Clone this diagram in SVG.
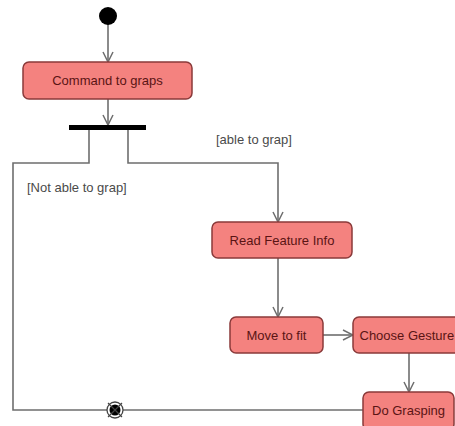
<svg xmlns="http://www.w3.org/2000/svg" width="455" height="426" viewBox="0 0 455 426">
<defs>
<style>
.act rect{fill:#f4827f;stroke:#8a3a3a;stroke-width:1.5}
.act text{font-family:"Liberation Sans",Arial,sans-serif;font-size:13px;fill:#5a1414;text-anchor:middle;dominant-baseline:central}
.edge{fill:none;stroke:#6e6e6e;stroke-width:1.6}
.lbl{font-family:"Liberation Sans",Arial,sans-serif;font-size:13px;fill:#4a4a4a}
</style>
<marker id="arr" viewBox="0 0 12 12" refX="11" refY="6" markerWidth="12" markerHeight="12" markerUnits="userSpaceOnUse" orient="auto">
<path d="M1,1 L11,6 L1,11" fill="none" stroke="#6e6e6e" stroke-width="1.5"/>
</marker>
</defs>
<rect width="455" height="426" fill="#ffffff"/>
<g id="connectors">
<path class="edge" d="M108,24 V62" marker-end="url(#arr)"/>
<path class="edge" d="M108,99 V125" marker-end="url(#arr)"/>
<path class="edge" d="M89,129 V163 H13 V410 H107"/>
<path class="edge" d="M128,129 V163 H278 V222" marker-end="url(#arr)"/>
<path class="edge" d="M278,258 V317" marker-end="url(#arr)"/>
<path class="edge" d="M323,335 H353" marker-end="url(#arr)"/>
<path class="edge" d="M409,353 V392" marker-end="url(#arr)"/>
<path class="edge" d="M363,410 H123"/>
<text class="lbl" x="216" y="144">[able to grap]</text>
<text class="lbl" x="27" y="192">[Not able to grap]</text>
</g>
<g id="initial">
<circle cx="108" cy="16" r="9" fill="#000"/>
</g>
<g id="command" class="act">
<rect x="23" y="62" width="169" height="37" rx="6"/>
<text x="107.5" y="80.5">Command to graps</text>
</g>
<g id="fork">
<rect x="69" y="125" width="77" height="5" fill="#000"/>
</g>
<g id="read" class="act">
<rect x="212" y="222" width="140" height="36" rx="6"/>
<text x="282" y="240">Read Feature Info</text>
</g>
<g id="move" class="act">
<rect x="230" y="317" width="93" height="36" rx="6"/>
<text x="276.5" y="335">Move to fit</text>
</g>
<g id="choose" class="act">
<rect x="353" y="317" width="115" height="36" rx="6"/>
<text x="359.5" y="335" style="text-anchor:start">Choose Gesture</text>
</g>
<g id="do" class="act">
<rect x="363" y="392" width="91" height="38" rx="6"/>
<text x="408.5" y="410">Do Grasping</text>
</g>
<g id="flowfinal">
<circle cx="115" cy="410" r="8" fill="#fff" stroke="#444" stroke-width="1.3"/>
<circle cx="115" cy="410" r="5.5" fill="#000"/>
<path d="M108,403 L122,417 M122,403 L108,417" stroke="#444" stroke-width="1.2"/>
</g>
</svg>
